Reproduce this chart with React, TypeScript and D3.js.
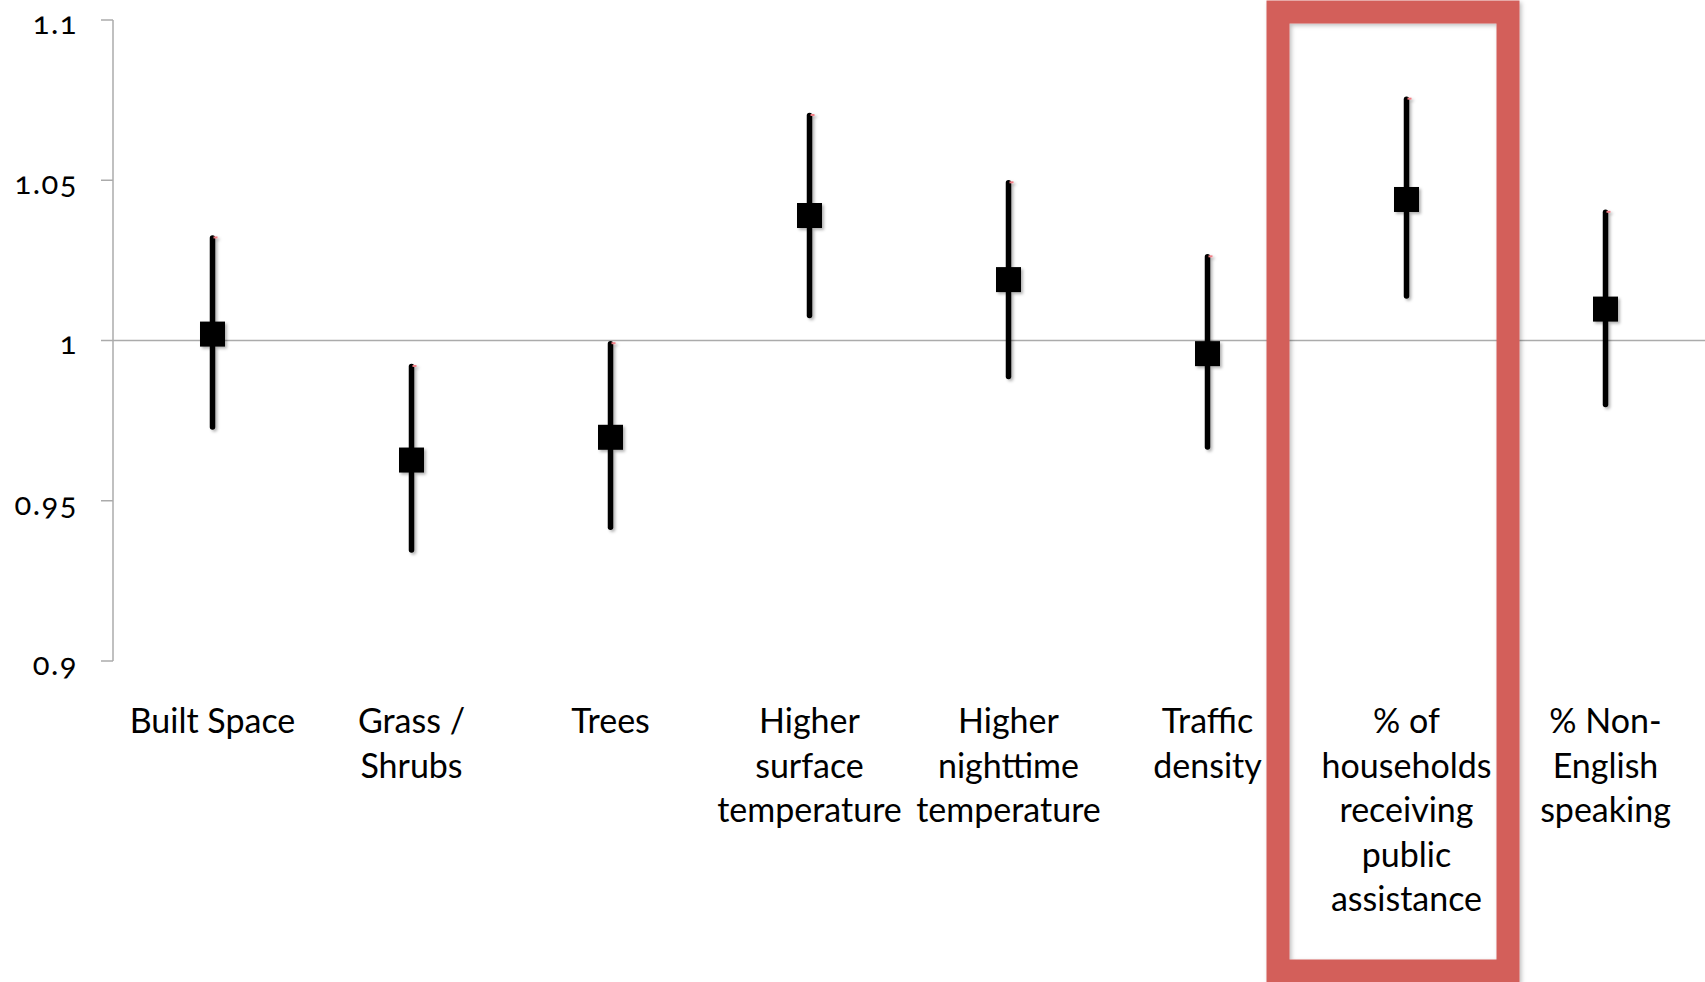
import * as d3 from 'd3';

const categories = [
  'Built Space',
  'Grass / Shrubs',
  'Trees',
  'Higher surface temperature',
  'Higher nighttime temperature',
  'Traffic density',
  '% of households receiving public assistance',
  '% Non-English speaking',
];

const labelLines = [
  ['Built Space'],
  ['Grass /', 'Shrubs'],
  ['Trees'],
  ['Higher', 'surface', 'temperature'],
  ['Higher', 'nighttime', 'temperature'],
  ['Traffic', 'density'],
  ['% of', 'households', 'receiving', 'public', 'assistance'],
  ['% Non-', 'English', 'speaking'],
];

const estimates = [1.002, 0.9627, 0.9698, 1.039, 1.019, 0.9959, 1.044, 1.0098];
const lower = [0.973, 0.9346, 0.9417, 1.0078, 0.9888, 0.9668, 1.0139, 0.98];
const upper = [1.032, 0.9919, 0.999, 1.0702, 1.0492, 1.0261, 1.0753, 1.04];

const yTicks = [0.9, 0.95, 1, 1.05, 1.1];
const yTickLabels = ['0.9', '0.95', '1', '1.05', '1.1'];

const highlighted = '% of households receiving public assistance';

export default function App() {
  const W = 1705;
  const H = 982;
  const axisX = 113;

  const x = d3.scaleBand<string>().domain(categories).range([axisX, W]).padding(0);
  const y = d3.scaleLinear().domain([0.9, 1.1]).range([661, 20]);
  const cx = (c: string) => (x(c) ?? 0) + x.bandwidth() / 2;

  const font = 'Lato, "Open Sans", sans-serif';
  const boxCx = cx(highlighted);

  return (
    <svg
      width={W}
      height={H}
      viewBox={`0 0 ${W} ${H}`}
      style={{ position: 'absolute', left: 0, top: 0, background: '#fff' }}
    >
      <defs>
        <filter id="shadow" x="-50%" y="-50%" width="200%" height="200%">
          <feDropShadow dx="2" dy="2" stdDeviation="1.5" floodColor="#000" floodOpacity="0.3" />
        </filter>
        <filter id="boxShadow" x="-10%" y="-10%" width="120%" height="120%">
          <feDropShadow dx="2" dy="2" stdDeviation="2" floodColor="#000" floodOpacity="0.25" />
        </filter>
      </defs>

      {/* reference line at 1 */}
      <line x1={axisX} x2={W} y1={y(1)} y2={y(1)} stroke="#ababab" strokeWidth={1.5} />

      {/* y axis */}
      <line x1={axisX} x2={axisX} y1={y(1.1)} y2={y(0.9)} stroke="#ababab" strokeWidth={1.5} />
      {yTicks.map((t, i) => (
        <g key={t}>
          <line x1={axisX - 12} x2={axisX} y1={y(t)} y2={y(t)} stroke="#ababab" strokeWidth={1.5} />
          <text
            x={78}
            y={y(t)}
            dy="0.45em"
            textAnchor="end"
            fontFamily={font}
            fontSize={31}
            letterSpacing={1.5}
            fill="#000"
            style={{ fontVariantNumeric: 'oldstyle-nums' }}
          >
            {yTickLabels[i]}
          </text>
        </g>
      ))}

      {/* highlight box */}
      <rect
        x={boxCx - 128.5}
        y={12}
        width={230}
        height={959}
        fill="none"
        stroke="#d35e5a"
        strokeWidth={23}
        filter="url(#boxShadow)"
      />

      {/* error bars and estimates */}
      {categories.map((c, i) => (
        <g key={c} filter="url(#shadow)">
          <line
            x1={cx(c)}
            x2={cx(c)}
            y1={y(upper[i])}
            y2={y(lower[i])}
            stroke="#000"
            strokeWidth={5.5}
            strokeLinecap="round"
          />
          <rect x={cx(c) + 1} y={y(upper[i]) - 1.5} width={4} height={2} fill="#f07f86" />
          <rect x={cx(c) - 12.5} y={y(estimates[i]) - 12.5} width={25} height={25} fill="#000" />
        </g>
      ))}

      {/* category labels */}
      {categories.map((c, i) => (
        <text key={c} textAnchor="middle" fontFamily={font} fontSize={34} fill="#000">
          {labelLines[i].map((l, j) => (
            <tspan key={j} x={cx(c)} y={733 + j * 44.5}>
              {l}
            </tspan>
          ))}
        </text>
      ))}
    </svg>
  );
}
